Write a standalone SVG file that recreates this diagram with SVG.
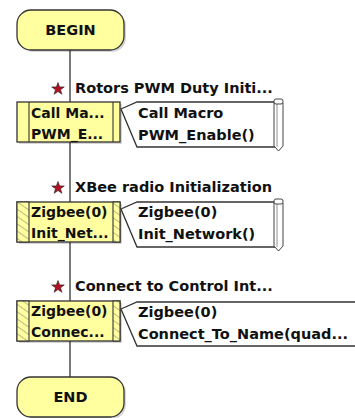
<svg xmlns="http://www.w3.org/2000/svg" width="355" height="418" viewBox="0 0 355 418">
  <style>
    .term { fill: #ffffa0; stroke: #333; stroke-width: 1.3; }
    .box { fill: #ffffa0; stroke: #333; stroke-width: 1.3; }
    .side { fill: none; stroke: #333; stroke-width: 1.1; }
    .hatch { stroke: #666; stroke-width: 0.9; }
    .note { fill: #fff; stroke: #333; stroke-width: 1.3; }
    .scroll { fill: #fff; stroke: #444; stroke-width: 1; }
    .shadow { fill: #000; opacity: 0.16; }
    .lbl { font-family: "DejaVu Sans", Verdana, sans-serif; font-weight: bold; font-size: 14.5px; fill: #111; }
    .in { font-size: 14px; }
    .star { fill: #b01020; stroke: #222; stroke-width: 0.6; }
    .wire { stroke: #333; stroke-width: 1.3; fill: none; }
  </style>
  <defs>
    <path id="starShape" d="M0,-6.5 L1.6,-2.1 L6.3,-2.1 L2.5,0.8 L3.9,5.3 L0,2.6 L-3.9,5.3 L-2.5,0.8 L-6.3,-2.1 L-1.6,-2.1 Z"/>
    <pattern id="hatchPat" width="6" height="6" patternUnits="userSpaceOnUse" patternTransform="rotate(-55)">
      <rect width="6" height="6" fill="#ffffa0"/>
      <line x1="0" y1="0" x2="0" y2="6" class="hatch"/>
    </pattern>
    <!-- rolled end of a comment note -->
    <g id="scrollEnd">
      <path class="scroll" d="M-4.5,4 L-4.5,47 L0,52 L4.5,47 L4.5,4 Z"/>
      <line x1="-1.5" y1="5" x2="-1.5" y2="48" stroke="#777" stroke-width="0.8"/>
      <rect class="scroll" x="-4.5" y="0" width="9" height="5" rx="2"/>
    </g>
  </defs>

  <!-- main flow line -->
  <g id="connectors">
    <line class="wire" x1="70" y1="50" x2="70" y2="377"/>
  </g>

  <!-- start terminator -->
  <g id="begin">
    <rect class="shadow" x="19" y="12" width="107" height="40" rx="14"/>
    <rect class="term" x="17" y="10" width="107" height="40" rx="14"/>
    <text class="lbl" x="70.5" y="35" text-anchor="middle">BEGIN</text>
  </g>

  <!-- macro call block -->
  <g id="step1">
    <use href="#starShape" class="star" x="58" y="89"/>
    <text class="lbl" x="75" y="93">Rotors PWM Duty Initi...</text>
    <rect class="shadow" x="19" y="104" width="103" height="40"/>
    <rect class="box" x="17" y="102" width="103" height="40"/>
    <line class="side" x1="29" y1="102" x2="29" y2="142"/>
    <line class="side" x1="113" y1="102" x2="113" y2="142"/>
    <text class="lbl in" x="31" y="118">Call Ma...</text>
    <text class="lbl in" x="31" y="139">PWM_E...</text>
  </g>
  <g id="note1">
    <path class="note" d="M137,102 L278,102 L278,147 L137,147 L121,109 Z"/>
    <use href="#scrollEnd" x="278.5" y="99"/>
    <text class="lbl" x="138" y="118">Call Macro</text>
    <text class="lbl" x="138" y="140">PWM_Enable()</text>
  </g>

  <!-- radio init block -->
  <g id="step2">
    <use href="#starShape" class="star" x="58" y="188"/>
    <text class="lbl" x="75" y="192">XBee radio Initialization</text>
    <rect class="shadow" x="19" y="204" width="103" height="40"/>
    <rect class="box" x="17" y="202" width="103" height="40"/>
    <rect x="17" y="202" width="12" height="40" fill="url(#hatchPat)" stroke="#333" stroke-width="1.1"/>
    <rect x="113" y="202" width="7" height="40" fill="url(#hatchPat)" stroke="#333" stroke-width="1.1"/>
    <text class="lbl in" x="31" y="217">Zigbee(0)</text>
    <text class="lbl in" x="31" y="238">Init_Net...</text>
  </g>
  <g id="note2">
    <path class="note" d="M137,202 L278,202 L278,247 L137,247 L121,209 Z"/>
    <use href="#scrollEnd" x="278.5" y="199"/>
    <text class="lbl" x="138" y="217">Zigbee(0)</text>
    <text class="lbl" x="138" y="239">Init_Network()</text>
  </g>

  <!-- connect block -->
  <g id="step3">
    <use href="#starShape" class="star" x="58" y="287"/>
    <text class="lbl" x="75" y="291">Connect to Control Int...</text>
    <rect class="shadow" x="19" y="303" width="103" height="40"/>
    <rect class="box" x="17" y="301" width="103" height="40"/>
    <rect x="17" y="301" width="12" height="40" fill="url(#hatchPat)" stroke="#333" stroke-width="1.1"/>
    <rect x="113" y="301" width="7" height="40" fill="url(#hatchPat)" stroke="#333" stroke-width="1.1"/>
    <text class="lbl in" x="31" y="316">Zigbee(0)</text>
    <text class="lbl in" x="31" y="337">Connec...</text>
  </g>
  <g id="note3">
    <path class="note" d="M137,302 L360,302 L360,346 L137,346 L121,309 Z"/>
    <text class="lbl" x="138" y="317">Zigbee(0)</text>
    <text class="lbl" x="138" y="339">Connect_To_Name(quad...</text>
  </g>

  <!-- end terminator -->
  <g id="end">
    <rect class="shadow" x="19" y="379" width="107" height="40" rx="14"/>
    <rect class="term" x="17" y="377" width="107" height="40" rx="14"/>
    <text class="lbl" x="70.5" y="402" text-anchor="middle">END</text>
  </g>
</svg>
